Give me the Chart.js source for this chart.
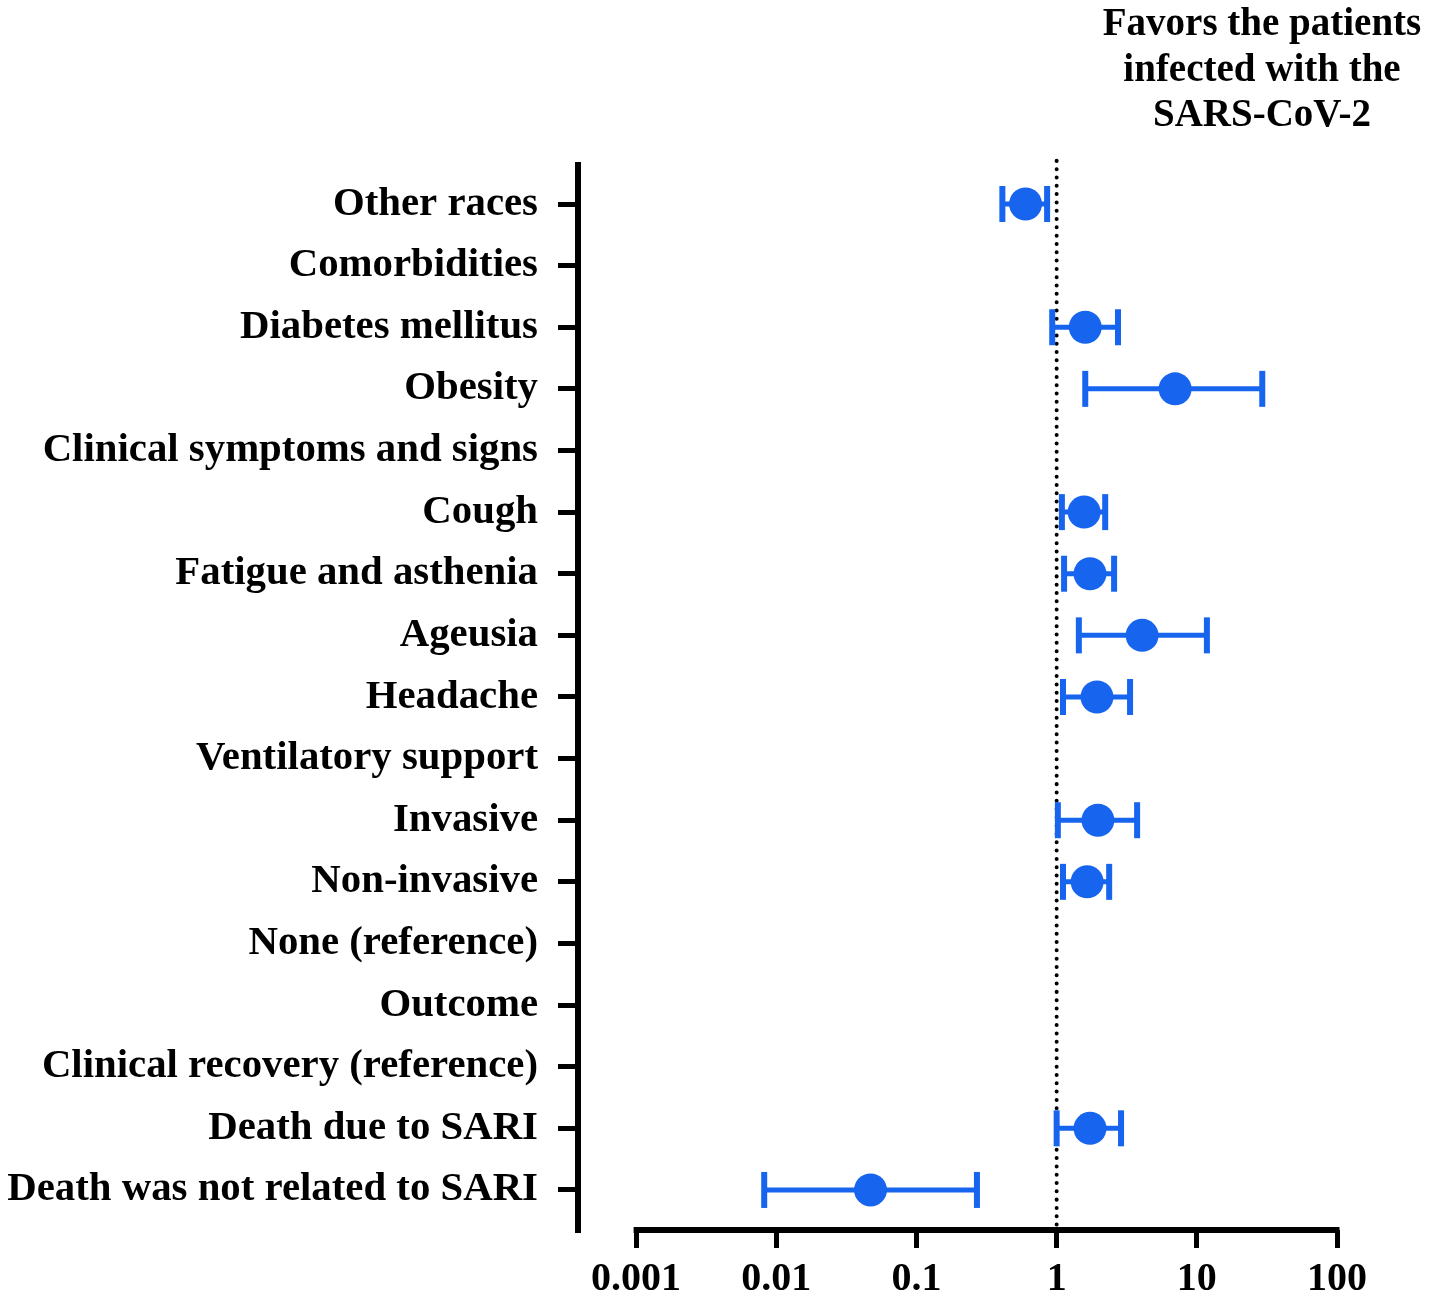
<!DOCTYPE html>
<html>
<head>
<meta charset="utf-8">
<script src="https://cdn.jsdelivr.net/npm/chart.js@4"></script>
<style>
html,body{margin:0;padding:0;background:#fff;}
#wrap{width:1430px;height:1300px;position:relative;}
</style>
</head>
<body>
<div id="wrap"><canvas id="c" width="1430" height="1300"></canvas></div>
<script>
const categories = ["Other races","Comorbidities","Diabetes mellitus","Obesity","Clinical symptoms and signs","Cough","Fatigue and asthenia","Ageusia","Headache","Ventilatory support","Invasive","Non-invasive","None (reference)","Outcome","Clinical recovery (reference)","Death due to SARI","Death was not related to SARI"];
const oddsRatio = [0.60,null,1.6,7.0,null,1.57,1.73,4.07,1.94,null,1.97,1.65,null,null,null,1.73,0.047];
const ciLower  = [0.41,null,0.93,1.6,null,1.09,1.13,1.44,1.11,null,1.02,1.11,null,null,null,1.0,0.0082];
const ciUpper  = [0.855,null,2.74,29.3,null,2.22,2.57,11.8,3.34,null,3.75,2.37,null,null,null,2.88,0.27];
const xTickValues = [0.001,0.01,0.1,1,10,100];
const xTickLabels = ["0.001","0.01","0.1","1","10","100"];
const titleLines = ["Favors the patients","infected with the","SARS-CoV-2"];
const referenceValue = 1;

const BLUE = '#1764ee';
const FONT = '"Liberation Serif","Times New Roman",serif';

const datasets = [];
// reference dotted line
datasets.push({
  type:'line',
  data:[{x:referenceValue,y:-0.7},{x:referenceValue,y:16.65}],
  borderColor:'#000', borderWidth:4, borderDash:[0.01,8.3], borderCapStyle:'round',
  pointRadius:0, clip:false, order:5
});
// CI lines
categories.forEach((c,i)=>{
  if (oddsRatio[i]==null) return;
  datasets.push({
    type:'line',
    data:[{x:ciLower[i],y:i},{x:ciUpper[i],y:i}],
    borderColor:BLUE, borderWidth:5, pointRadius:0, order:3
  });
});
// caps
const caps = [];
categories.forEach((c,i)=>{
  if (oddsRatio[i]==null) return;
  caps.push({x:ciLower[i],y:i},{x:ciUpper[i],y:i});
});
datasets.push({
  type:'scatter', data:caps, pointStyle:'line', rotation:90, radius:18,
  borderColor:BLUE, borderWidth:6, backgroundColor:BLUE, order:2,
  pointHoverRadius:18
});
// points
datasets.push({
  type:'scatter',
  data:categories.map((c,i)=>oddsRatio[i]==null?null:{x:oddsRatio[i],y:i}).filter(p=>p),
  pointStyle:'circle', radius:16.5, backgroundColor:BLUE, borderColor:BLUE, borderWidth:0, order:1,
  pointHoverRadius:16.5
});

const extraPlugin = {
  id:'extra',
  afterDraw(chart){
    const ctx = chart.ctx;
    const xs = chart.scales.x;
    const ca = chart.chartArea;
    ctx.save();
    ctx.strokeStyle = '#000';
    ctx.lineWidth = 6;
    ctx.beginPath();
    const x0 = xs.getPixelForValue(xTickValues[0]);
    const x1 = xs.getPixelForValue(xTickValues[xTickValues.length-1]);
    ctx.moveTo(x0-2.5, ca.bottom);
    ctx.lineTo(x1+2.5, ca.bottom);
    ctx.stroke();
    ctx.fillStyle = '#000';
    ctx.font = 'bold 39px ' + FONT;
    ctx.textAlign = 'center';
    ctx.textBaseline = 'middle';
    titleLines.forEach((t,k)=>ctx.fillText(t, 1262, 25 + k*45.5));
    ctx.restore();
  }
};

new Chart(document.getElementById('c'), {
  data:{datasets},
  options:{
    responsive:false,
    animation:false,
    devicePixelRatio:1,
    layout:{padding:{top:165,right:93,left:0,bottom:0}},
    plugins:{legend:{display:false},tooltip:{enabled:false},title:{display:false}},
    scales:{
      x:{
        type:'logarithmic',
        min:0.000385, max:100,
        afterBuildTicks(s){ s.ticks = xTickValues.map(v=>({value:v})); },
        afterFit(s){ s.height = 70; },
        grid:{drawOnChartArea:false, drawTicks:true, tickLength:18, lineWidth:5, color:'#000'},
        border:{display:false},
        ticks:{
          callback:(v)=>{ const k = xTickValues.indexOf(v); return k>=0?xTickLabels[k]:''; },
          font:{family:FONT, weight:'bold', size:40}, color:'#000', padding:8, maxRotation:0, autoSkip:false
        }
      },
      y:{
        type:'linear',
        min:-0.633, max:16.65, reverse:true,
        afterBuildTicks(s){ s.ticks = categories.map((c,i)=>({value:i})); },
        afterFit(s){ s.width = 578; },
        grid:{drawOnChartArea:false, drawTicks:true, tickLength:20, lineWidth:5, color:'#000'},
        border:{display:true, width:6, color:'#000'},
        ticks:{
          callback:(v)=>categories[v] ?? '',
          font:{family:FONT, weight:'bold', size:40.8}, color:'#000', padding:20, autoSkip:false
        }
      }
    }
  },
  plugins:[extraPlugin]
});
</script>
</body>
</html>
